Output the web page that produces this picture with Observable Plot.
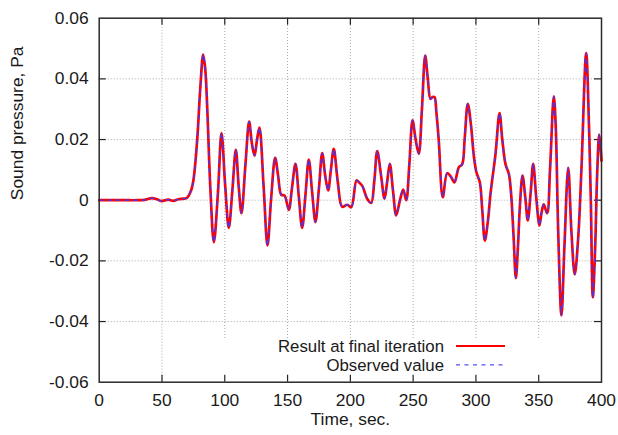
<!DOCTYPE html>
<html><head><meta charset="utf-8">
<script src="https://cdn.jsdelivr.net/npm/d3@7"></script>
<script src="https://cdn.jsdelivr.net/npm/@observablehq/plot@0.6"></script>
<style>body{margin:0;background:#fff}</style>
</head><body><div id="chart"></div>
<script>
const time = [0,10,20,30,36,42,46,49.5,55,59,63,67,70,73,75,78,80.5,82.8,84.5,86,88.6,91.3,94.5,97.4,100.3,103.2,106,108.8,111,113.3,116.5,119.4,121.5,123.7,125.7,127.6,131,134,137,140.1,142.5,145,147.6,151,153.5,156.3,159,161.6,164.3,166.9,169.5,172.2,175,177.6,180,182.3,184.5,186.8,190,193.5,197.5,200.7,204.9,207,209.4,213.4,216.6,219,221.4,224.5,227.2,229.3,231.4,234,236.5,239.5,242.1,244.5,247,249.5,252,254.5,257,259.6,261.7,263.8,265.5,267,268.5,270.4,273.6,277.1,280,282.9,286.4,289,291,293.5,296,298.5,300.4,303.1,305,307.1,309.5,311.6,315.6,318.8,321,323.6,326.2,328,330,331.8,333.5,335,337.1,339.3,341.3,343.5,345.6,348,350.6,352.3,354,356.7,359,362,363.5,365.5,368.1,370.5,373.5,376,378.7,381.5,384,387.8,390,391.5,393.1,395,396.5,398.2,400];
const result = [0,0,0,0,0.0001,0.0007,0.0003,-0.0003,0.0002,-0.0002,0.0003,0.0005,0.0008,0.003,0.0065,0.0197,0.037,0.048,0.043,0.0307,0.0032,-0.0138,0.002,0.0221,0.005,-0.0091,0.003,0.0166,0.005,-0.0043,0.012,0.0259,0.019,0.0147,0.02,0.0239,0.004,-0.0149,0.001,0.014,0.008,0.0018,0.0015,-0.0032,0.004,0.012,0.001,-0.0091,0.002,0.0134,0.003,-0.0072,0.004,0.0155,0.008,0.0032,0.01,0.0169,0.006,-0.0022,-0.0015,-0.0023,0.0065,0.0058,0.0048,0.0005,-0.0009,0.006,0.0162,0.008,0.0005,0.006,0.012,0.003,-0.005,0.0,0.0035,0.0,0.012,0.0263,0.02,0.0153,0.03,0.0477,0.04,0.0334,0.034,0.034,0.029,0.0197,0.001,0.0089,0.0078,0.0059,0.0109,0.0118,0.02,0.0318,0.025,0.014,0.0092,0.0059,-0.003,-0.0133,-0.007,0.0021,0.0153,0.0287,0.02,0.0118,0.0087,0.0022,-0.012,-0.0257,-0.015,-0.002,0.0081,0.001,-0.0067,0.002,0.012,0.001,-0.0083,-0.004,-0.0014,-0.0043,0.01,0.0342,0.025,-0.01,-0.038,-0.015,0.0107,-0.01,-0.0245,-0.012,0.01,0.0485,0.025,0.0,-0.032,-0.015,0.008,0.0216,0.013];
const observed = [0,0,0,0,0.0001,0.0007,0.0003,-0.0003,0.0002,-0.0002,0.0003,0.0005,0.0008,0.003,0.0065,0.0197,0.037,0.048,0.043,0.0307,0.0032,-0.0138,0.002,0.0221,0.005,-0.0091,0.003,0.0166,0.005,-0.0043,0.012,0.0259,0.019,0.0147,0.02,0.0239,0.004,-0.0149,0.001,0.014,0.008,0.0018,0.0015,-0.0032,0.004,0.012,0.001,-0.0091,0.002,0.0134,0.003,-0.0072,0.004,0.0155,0.008,0.0032,0.01,0.0169,0.006,-0.0022,-0.0015,-0.0023,0.0065,0.0058,0.0048,0.0005,-0.0009,0.006,0.0162,0.008,0.0005,0.006,0.012,0.003,-0.005,0.0,0.0035,0.0,0.012,0.0263,0.02,0.0153,0.03,0.0477,0.04,0.0334,0.034,0.034,0.029,0.0197,0.001,0.0089,0.0078,0.0059,0.0109,0.0118,0.02,0.0318,0.025,0.014,0.0092,0.0059,-0.003,-0.0133,-0.007,0.0021,0.0153,0.0287,0.02,0.0118,0.0087,0.0022,-0.012,-0.0257,-0.015,-0.002,0.0081,0.001,-0.0067,0.002,0.012,0.001,-0.0083,-0.004,-0.0014,-0.0043,0.01,0.0342,0.025,-0.01,-0.038,-0.015,0.0107,-0.01,-0.0245,-0.012,0.01,0.0485,0.025,0.0,-0.032,-0.015,0.008,0.0216,0.013];
const xTicks = [0,50,100,150,200,250,300,350,400];
const xTickLabels = ["0","50","100","150","200","250","300","350","400"];
const yTicks = [-0.06,-0.04,-0.02,0,0.02,0.04,0.06];
const yTickLabels = ["-0.06","-0.04","-0.02","0","0.02","0.04","0.06"];
const seriesNames = ["Result at final iteration","Observed value"];
const xTitle = "Time, sec.";
const yTitle = "Sound pressure, Pa";

const W = 618, H = 435, mL = 98.7, mR = 17, mT = 17.7, mB = 53.3;
const xDomain = [0, 400], yDomain = [-0.06, 0.06];
const pxPerX = (W - mL - mR) / (xDomain[1] - xDomain[0]);
const pxPerY = (H - mT - mB) / (yDomain[1] - yDomain[0]);
const tickLen = 7;
const legendTopPx = 338; // grid is hidden below the key box
const legendTop = yDomain[1] - (legendTopPx - mT) / pxPerY;

const data = time.map((t, i) => ({t, result: result[i], observed: observed[i]}));
const xInner = xTicks.slice(1, -1), yInner = yTicks.slice(1, -1);
const font = "'Liberation Sans', Arial, Helvetica, sans-serif";
const fs = 17.4;
const keyFs = 16.8;

const chart = Plot.plot({
  width: W, height: H,
  marginLeft: mL, marginRight: mR, marginTop: mT, marginBottom: mB,
  style: {fontFamily: font, fontSize: fs + "px", background: "#fff", color: "#1a1a1a"},
  x: {domain: xDomain},
  y: {domain: yDomain},
  marks: [
    Plot.ruleX(xInner, {x: d => d, y1: d => d >= 100 ? legendTop : yDomain[0], y2: yDomain[1], stroke: "#a8a8a8", strokeWidth: 1, strokeDasharray: "1,2"}),
    Plot.ruleY(yInner, {y: d => d, x1: xDomain[0], x2: xDomain[1], stroke: "#a8a8a8", strokeWidth: 1, strokeDasharray: "1,2"}),
    Plot.ruleX(xInner, {x: d => d, y1: yDomain[0], y2: yDomain[0] + tickLen / pxPerY, stroke: "#222", strokeWidth: 1.2}),
    Plot.ruleX(xInner, {x: d => d, y1: yDomain[1], y2: yDomain[1] - tickLen / pxPerY, stroke: "#222", strokeWidth: 1.2}),
    Plot.ruleY(yInner, {y: d => d, x1: xDomain[0], x2: xDomain[0] + tickLen / pxPerX, stroke: "#222", strokeWidth: 1.2}),
    Plot.ruleY(yInner, {y: d => d, x1: xDomain[1], x2: xDomain[1] - tickLen / pxPerX, stroke: "#222", strokeWidth: 1.2}),
    Plot.line(data, {x: "t", y: "result", stroke: "#ff0000", strokeWidth: 2.7, curve: "catmull-rom"}),
    Plot.line(data, {x: "t", y: "observed", stroke: "#3a3aff", strokeWidth: 1.3, strokeDasharray: "4,4.5", curve: "catmull-rom"}),
    Plot.frame({stroke: "#2a2a2a", strokeWidth: 1.5}),
    Plot.axisX({ticks: xTicks, tickFormat: d => xTickLabels[xTicks.indexOf(d)], tickSize: 0, tickPadding: 11, label: null, fontSize: fs}),
    Plot.axisY({ticks: yTicks, tickFormat: d => yTickLabels[yTicks.indexOf(d)], tickSize: 0, tickPadding: 10.5, label: null, fontSize: fs}),
    Plot.text([xTitle], {frameAnchor: "bottom", dy: 43, fontSize: fs}),
    Plot.text([yTitle], {frameAnchor: "left", rotate: -90, dx: -82, fontSize: fs})
  ]
});
document.getElementById("chart").appendChild(chart);

// key (legend) inside the plot, gnuplot style
const svg = d3.select(chart);
const key = svg.append("g").attr("font-family", font).attr("font-size", keyFs);
const keyRows = [
  {name: seriesNames[0], y: 345.9, stroke: "#ff0000", width: 2, dash: null},
  {name: seriesNames[1], y: 364.9, stroke: "#5050ff", width: 1.3, dash: "4,4.5"}
];
keyRows.forEach(r => {
  key.append("text").attr("x", 444).attr("y", r.y).attr("dy", "0.34em")
    .attr("text-anchor", "end").attr("fill", "#1a1a1a").text(r.name);
  const ln = key.append("line").attr("x1", 456).attr("x2", 505).attr("y1", r.y).attr("y2", r.y)
    .attr("stroke", r.stroke).attr("stroke-width", r.width);
  if (r.dash) ln.attr("stroke-dasharray", r.dash);
});
</script>
</body></html>
